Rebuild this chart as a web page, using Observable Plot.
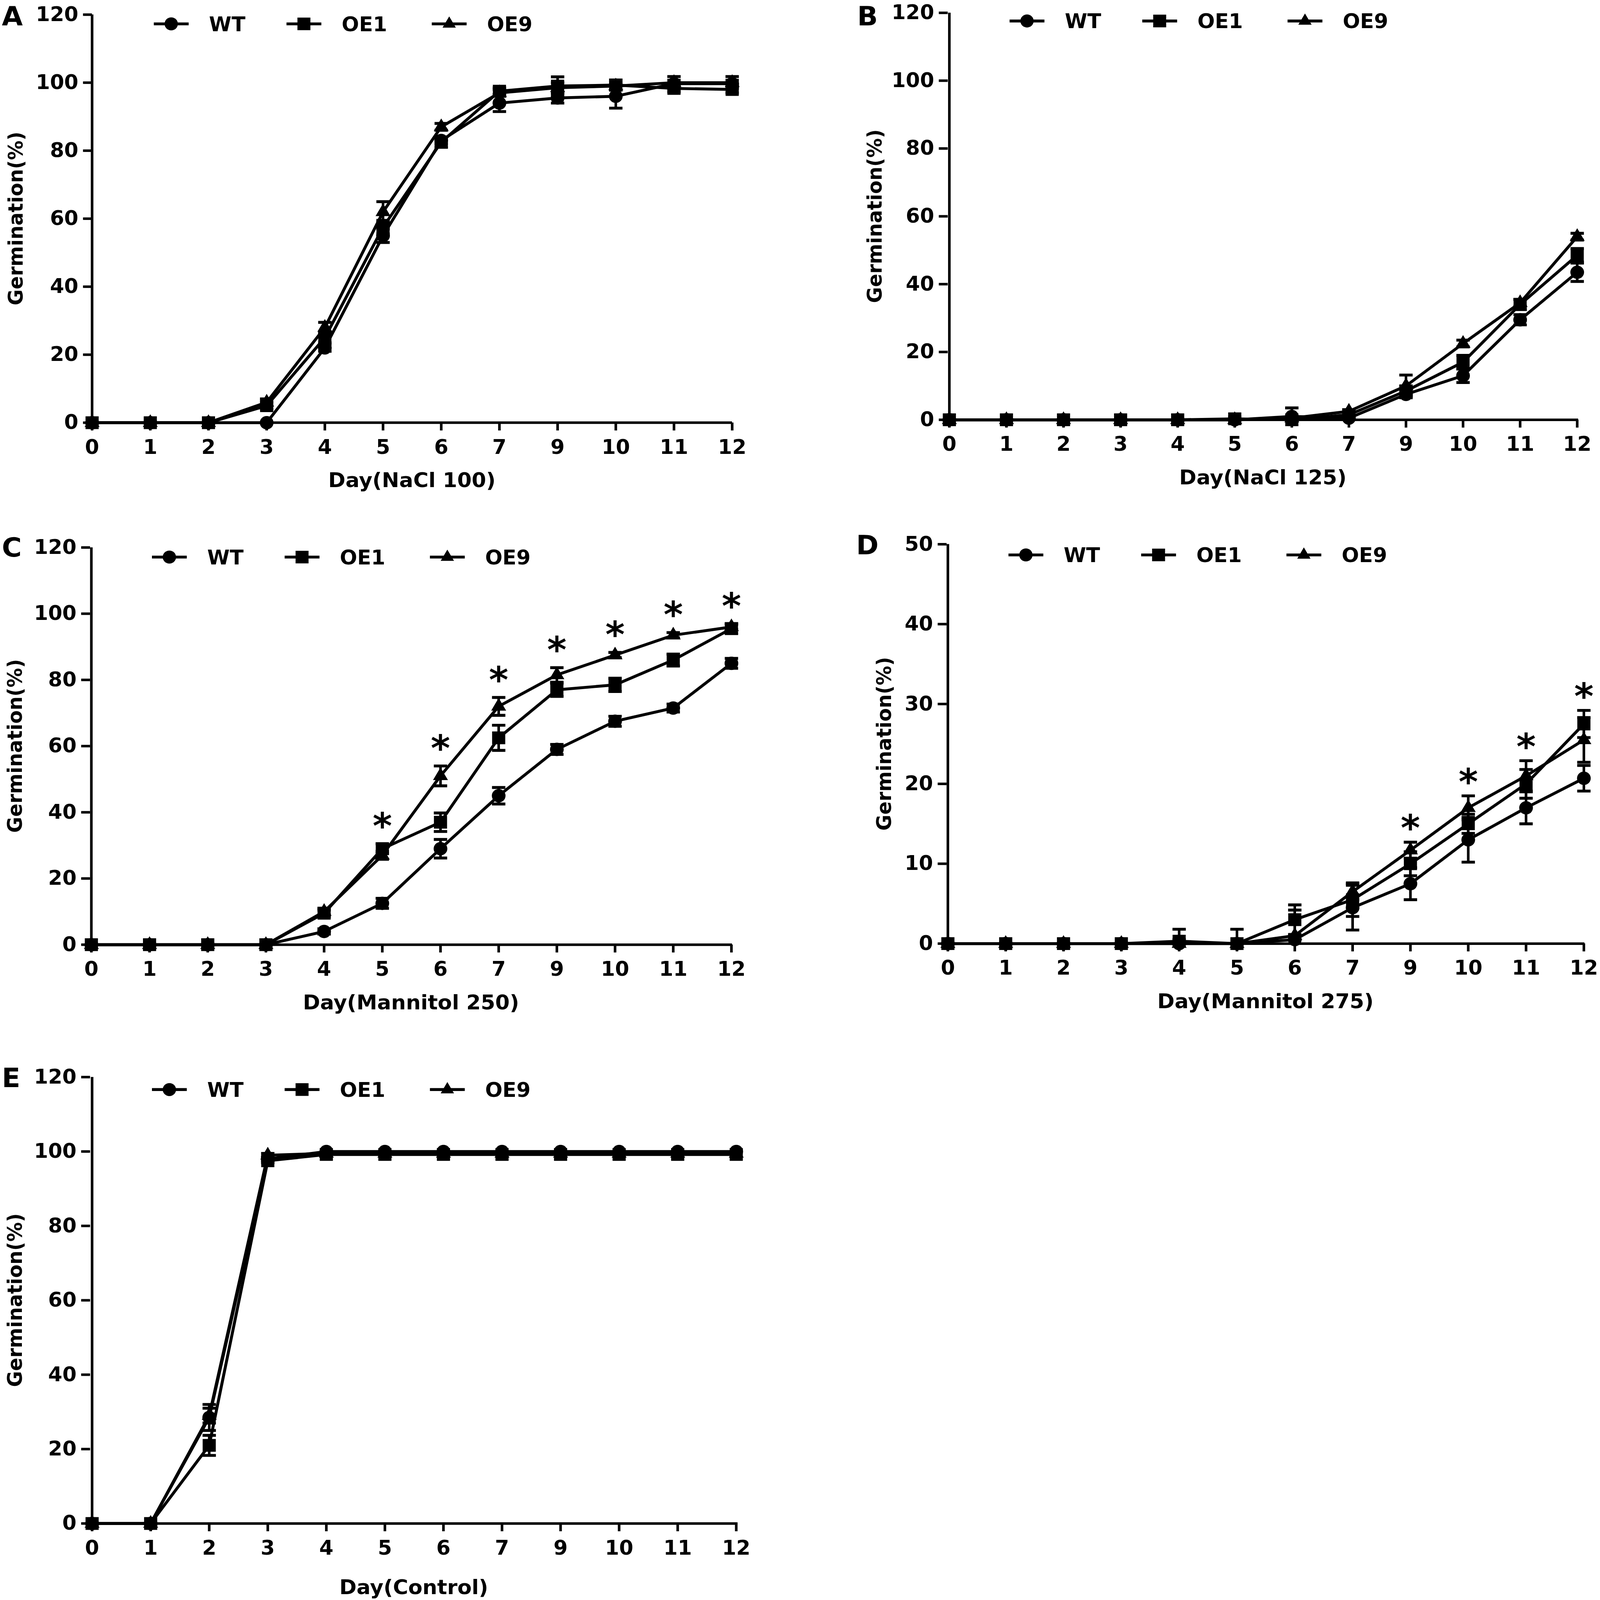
<!DOCTYPE html>
<html>
<head>
<meta charset="utf-8">
<script src="https://cdn.jsdelivr.net/npm/d3@7"></script>
<script src="https://cdn.jsdelivr.net/npm/@observablehq/plot@0.6"></script>
<style>
  html, body { margin: 0; padding: 0; background: #fff; overflow: hidden; }
  #fig { position: absolute; left: 0; top: 0; width: 4317px; height: 4423px; background: #fff;
         overflow: hidden; transform-origin: 0 0; }
  #fig > svg { position: absolute; }
</style>
</head>
<body>
<div id="fig"></div>
<script>
// ---------- shared categories ----------
const days = ["0", "1", "2", "3", "4", "5", "6", "7", "9", "10", "11", "12"];
const seriesNames = ["WT", "OE1", "OE9"];
const yTicks120 = [0, 20, 40, 60, 80, 100, 120];
const yTicks50 = [0, 10, 20, 30, 40, 50];

// ---------- A: NaCl 100 ----------
const nacl100WT     = [0, 0, 0, 0, 22, 55, 83, 94, 95.5, 96, 99.7, 99.7];
const nacl100WTErr  = [0, 0, 0, 0, 1, 2, 1, 2.5, 1.5, 3.5, 1, 1];
const nacl100OE1    = [0, 0, 0, 5, 25, 57.5, 82.5, 97.5, 99, 99.3, 98.3, 98];
const nacl100OE1Err = [0, 0, 0, 1, 1.5, 2, 1.5, 1, 2.7, 1.5, 1, 1];
const nacl100OE9    = [0, 0, 0, 6, 28, 62, 87, 97, 98.5, 99, 100, 100];
const nacl100OE9Err = [0, 0, 0, 1, 1.5, 3, 1, 1, 1.5, 1, 1.8, 1.8];

// ---------- B: NaCl 125 ----------
const nacl125WT     = [0, 0, 0, 0, 0, 0, 1, 0.5, 7.5, 13, 29.5, 43.5];
const nacl125WTErr  = [0, 0, 0, 0, 0, 0, 2.5, 0.5, 1, 2, 1.5, 2.7];
const nacl125OE1    = [0, 0, 0, 0, 0, 0.3, 0, 1.5, 8.5, 17, 34, 48.5];
const nacl125OE1Err = [0, 0, 0, 0, 0, 0.5, 0.5, 1, 1.5, 2, 1.5, 2];
const nacl125OE9    = [0, 0, 0, 0, 0, 0, 0.5, 2.5, 10, 22.5, 34.5, 54];
const nacl125OE9Err = [0, 0, 0, 0, 0, 0, 0.5, 0.5, 3.2, 1, 1, 1];

// ---------- C: Mannitol 250 ----------
const man250WT     = [0, 0, 0, 0, 4, 12.5, 29, 45, 59, 67.5, 71.5, 85];
const man250WTErr  = [0, 0, 0, 0, 0.8, 1.5, 2.8, 2.5, 1.5, 1.5, 1.2, 1.5];
const man250OE1    = [0, 0, 0, 0, 9.5, 29, 37, 62.5, 77, 78.5, 86, 95.5];
const man250OE1Err = [0, 0, 0, 0, 1, 1.5, 2.8, 3.8, 2, 2, 1.8, 1.5];
const man250OE9    = [0, 0, 0, 0, 10, 27, 51, 72, 81.5, 87.5, 93.5, 96];
const man250OE9Err = [0, 0, 0, 0, 1, 1.2, 3, 2.7, 2.2, 0.8, 0.8, 0.8];
const man250Sig    = ["5", "6", "7", "9", "10", "11", "12"];

// ---------- D: Mannitol 275 ----------
const man275WT     = [0, 0, 0, 0, 0, 0, 0.5, 4.5, 7.5, 13, 17, 20.7];
const man275WTErr  = [0, 0, 0, 0, 0.5, 0, 0.5, 2.8, 2, 2.8, 2, 1.6];
const man275OE1    = [0, 0, 0, 0, 0.3, 0, 3, 5.5, 10, 15, 20, 27.5];
const man275OE1Err = [0, 0, 0, 0, 1.5, 1.8, 1.85, 2.1, 1.5, 1.2, 1.8, 1.7];
const man275OE9    = [0, 0, 0, 0, 0, 0, 1, 6.5, 11.7, 17, 21, 25.5];
const man275OE9Err = [0, 0, 0, 0, 0, 0, 3.2, 1, 1, 1.5, 1.9, 2.8];
const man275Sig    = ["9", "10", "11", "12"];

// ---------- E: Control ----------
const ctrlWT     = [0, 0, 28.5, 98, 100, 100, 100, 100, 100, 100, 100, 100];
const ctrlWTErr  = [0, 0, 3.5, 0.5, 0, 0, 0, 0, 0, 0, 0, 0];
const ctrlOE1    = [0, 0, 21, 97.5, 99.2, 99.2, 99.2, 99.2, 99.2, 99.2, 99.2, 99.2];
const ctrlOE1Err = [0, 0, 2.7, 0.5, 0, 0, 0, 0, 0, 0, 0, 0];
const ctrlOE9    = [0, 0, 29, 99, 99.5, 99.5, 99.5, 99.5, 99.5, 99.5, 99.5, 99.5];
const ctrlOE9Err = [0, 0, 2, 0.5, 0, 0, 0, 0, 0, 0, 0, 0];

// ---------- panel layout (positions only, in reference pixels) ----------
const panels = [
  {letter: "A", xLabel: "Day(NaCl 100)", x0: 248, x1: 1975, yTop: 40, yZero: 1168, yMax: 120, ticks: yTicks120,
   yLabelX: 42, letterX: 5, letterBase: 70, legendY: 66, xLabelGap: 179,
   values: {WT: nacl100WT, OE1: nacl100OE1, OE9: nacl100OE9},
   errors: {WT: nacl100WTErr, OE1: nacl100OE1Err, OE9: nacl100OE9Err}, sig: [], starDy: 0},
  {letter: "B", xLabel: "Day(NaCl 125)", x0: 2557, x1: 4258, yTop: 35, yZero: 1160, yMax: 120, ticks: yTicks120,
   yLabelX: 2359, letterX: 2313, letterBase: 70, legendY: 58, xLabelGap: 179,
   values: {WT: nacl125WT, OE1: nacl125OE1, OE9: nacl125OE9},
   errors: {WT: nacl125WTErr, OE1: nacl125OE1Err, OE9: nacl125OE9Err}, sig: [], starDy: 0},
  {letter: "C", xLabel: "Day(Mannitol 250)", x0: 243, x1: 1975, yTop: 1513, yZero: 2611, yMax: 120, ticks: yTicks120,
   yLabelX: 40, letterX: 5, letterBase: 1539, legendY: 1540, xLabelGap: 179,
   values: {WT: man250WT, OE1: man250OE1, OE9: man250OE9},
   errors: {WT: man250WTErr, OE1: man250OE1Err, OE9: man250OE9Err}, sig: man250Sig, starDy: -20},
  {letter: "D", xLabel: "Day(Mannitol 275)", x0: 2554, x1: 4275, yTop: 1504, yZero: 2608, yMax: 50, ticks: yTicks50,
   yLabelX: 2385, letterX: 2310, letterBase: 1532, legendY: 1534, xLabelGap: 179,
   values: {WT: man275WT, OE1: man275OE1, OE9: man275OE9},
   errors: {WT: man275WTErr, OE1: man275OE1Err, OE9: man275OE9Err}, sig: man275Sig, starDy: -10},
  {letter: "E", xLabel: "Day(Control)", x0: 243, x1: 1990, yTop: 2977, yZero: 4211, yMax: 120, ticks: yTicks120,
   yLabelX: 40, letterX: 5, letterBase: 3005, legendY: 3012, xLabelGap: 196,
   values: {WT: ctrlWT, OE1: ctrlOE1, OE9: ctrlOE9},
   errors: {WT: ctrlWTErr, OE1: ctrlOE1Err, OE9: ctrlOE9Err}, sig: [], starDy: 0}
];

const FONT = "'DejaVu Sans', 'Liberation Sans', Arial, sans-serif";
const M = {left: 240, right: 60, top: 40, bottom: 200};

// fit the 4317x4423 figure into whatever viewport the browser really has
const fig = document.getElementById("fig");
const sx = Math.min(1, (window.innerWidth || 4317) / 4317);
const sy = Math.min(1, (window.innerHeight || 4423) / 4423);
fig.style.transform = `scale(${sx}, ${sy})`;

// horizontal error-bar cap drawn as a custom Plot symbol
const capSymbol = {
  draw(ctx, size) { const w = Math.sqrt(size / Math.PI); ctx.moveTo(-w, 0); ctx.lineTo(w, 0); }
};

for (const p of panels) {
  const rows = [];
  for (const s of seriesNames) {
    p.values[s].forEach((v, i) => rows.push({day: days[i], series: s, value: v, err: p.errors[s][i]}));
  }
  const errRows = rows.filter(d => d.err > 0);
  const lowRows = errRows.filter(d => d.value - d.err > 0);
  const starRows = p.sig.map(day => ({
    day,
    top: d3.max(rows.filter(r => r.day === day), r => r.value + r.err)
  }));

  const width = p.x1 - p.x0 + M.left + M.right;
  const height = p.yZero - p.yTop + M.top + M.bottom;

  const chart = Plot.plot({
    width, height,
    marginLeft: M.left, marginRight: M.right, marginTop: M.top, marginBottom: M.bottom,
    style: {fontFamily: FONT, fontWeight: "bold", fontSize: "55px", color: "black",
            background: "transparent", overflow: "visible", maxWidth: "none"},
    x: {type: "point", domain: days, padding: 0},
    y: {domain: [0, p.yMax]},
    marks: [
      Plot.axisX({tickSize: 22, tickPadding: 25, strokeWidth: 7, fontSize: 55, label: null}),
      Plot.axisY({ticks: p.ticks, tickSize: 24, tickPadding: 13, strokeWidth: 7, fontSize: 55, label: null}),
      Plot.ruleX([days[0]], {stroke: "black", strokeWidth: 7}),
      Plot.line(rows, {x: "day", y: "value", z: "series", stroke: "black", strokeWidth: 8, strokeLinejoin: "round"}),
      Plot.ruleY([0], {stroke: "black", strokeWidth: 7}),
      Plot.ruleX(errRows, {x: "day", y1: d => Math.max(0, d.value - d.err), y2: d => d.value + d.err,
                           stroke: "black", strokeWidth: 7}),
      Plot.dot(errRows, {x: "day", y: d => d.value + d.err, symbol: capSymbol, r: 18,
                         fill: "none", stroke: "black", strokeWidth: 8}),
      Plot.dot(lowRows, {x: "day", y: d => d.value - d.err, symbol: capSymbol, r: 18,
                         fill: "none", stroke: "black", strokeWidth: 8}),
      Plot.dot(rows.filter(d => d.series === "WT"), {x: "day", y: "value", symbol: "circle", r: 18.5, fill: "black"}),
      Plot.dot(rows.filter(d => d.series === "OE1"), {x: "day", y: "value", symbol: "square", r: 20, fill: "black"}),
      Plot.dot(rows.filter(d => d.series === "OE9"), {x: "day", y: "value", symbol: "triangle", r: 15, fill: "black"}),
      Plot.text(starRows, {x: "day", y: "top", text: () => "*", fontSize: 100, fontWeight: "bold",
                           dy: p.starDy - 26, fill: "black"})
    ]
  });
  chart.style.left = (p.x0 - M.left) + "px";
  chart.style.top = (p.yTop - M.top) + "px";
  fig.appendChild(chart);
}

// ---------- overlay: panel letters, axis titles, legends ----------
const overlay = d3.select(fig).append("svg")
  .attr("width", 4317).attr("height", 4423)
  .style("left", "0px").style("top", "0px").style("pointer-events", "none")
  .attr("font-family", FONT).attr("font-weight", "bold").attr("fill", "black");

const legendOffsets = [214, 572, 964];
const legendSymbols = [d3.symbolCircle, d3.symbolSquare, d3.symbolTriangle];
const legendSizes = [Math.PI * 18 * 18, 35 * 35, 560];

for (const p of panels) {
  overlay.append("text").attr("x", p.letterX).attr("y", p.letterBase)
    .attr("font-size", 73).text(p.letter);
  overlay.append("text").attr("x", (p.x0 + p.x1) / 2).attr("y", p.yZero + p.xLabelGap)
    .attr("text-anchor", "middle").attr("font-size", 56).text(p.xLabel);
  const cy = (p.yTop + p.yZero) / 2;
  overlay.append("text")
    .attr("transform", `translate(${p.yLabelX},${cy}) rotate(-90)`)
    .attr("text-anchor", "middle").attr("dy", "0.36em")
    .attr("font-size", 54).text("Germination(%)");
  seriesNames.forEach((s, i) => {
    const cx = p.x0 + legendOffsets[i];
    const g = overlay.append("g");
    g.append("line").attr("x1", cx - 47).attr("x2", cx + 47).attr("y1", p.legendY).attr("y2", p.legendY)
      .attr("stroke", "black").attr("stroke-width", 8);
    g.append("path").attr("transform", `translate(${cx},${p.legendY})`)
      .attr("d", d3.symbol(legendSymbols[i], legendSizes[i])());
    g.append("text").attr("x", cx + 102).attr("y", p.legendY + 20).attr("font-size", 55).text(s);
  });
}
</script>
</body>
</html>
